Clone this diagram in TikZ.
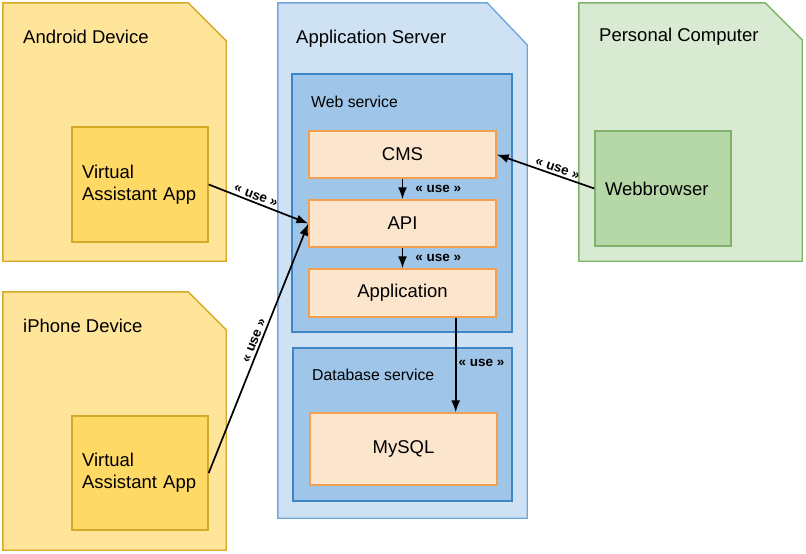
\documentclass[tikz,border=0pt]{standalone}
\usepackage{fontspec}
\setmainfont{Liberation Sans}
\usetikzlibrary{arrows.meta}

\definecolor{devfill}{HTML}{FFE599}
\definecolor{devdraw}{HTML}{D6A928}
\definecolor{appfill}{HTML}{FFD966}
\definecolor{srvfill}{HTML}{CFE2F3}
\definecolor{srvdraw}{HTML}{6FA8DC}
\definecolor{svcfill}{HTML}{9FC5E8}
\definecolor{svcdraw}{HTML}{3D85C6}
\definecolor{compfill}{HTML}{FCE5CD}
\definecolor{compdraw}{HTML}{F0A050}
\definecolor{pcfill}{HTML}{D9EAD3}
\definecolor{pcdraw}{HTML}{7FB36A}
\definecolor{webfill}{HTML}{B6D7A8}

\tikzset{
  every node/.style={font=\fontsize{18.5}{22}\selectfont},
  box/.style={draw,line width=1.4pt,inner sep=0pt},
  frame/.style={inner sep=0pt},
  cut/.style={line width=1.4pt,line join=miter},
  title/.style={anchor=west,inner sep=0pt},
  subtitle/.style={title,font=\fontsize{15.8}{19}\selectfont},
  usearrow/.style={line width=1.7pt,-{Latex[length=12pt,width=9pt]}},
  uselabel/.style={font=\fontsize{13.5}{16}\bfseries\selectfont,inner sep=2pt}
}

\begin{document}
\begin{tikzpicture}[x=1pt,y=-1pt]
\useasboundingbox (0,0) rectangle (806,554);

% devices
\node[frame,minimum width=223pt,minimum height=258pt] (android) at (114.5,132) {};
\draw[cut,fill=devfill,draw=devdraw] (android.south west) |- ([xshift=-38pt]android.north east)
  -- ([yshift=-38pt]android.north east) -- (android.south east) -- cycle;
\node[frame,minimum width=223pt,minimum height=258pt] (iphone) at (114.5,421) {};
\draw[cut,fill=devfill,draw=devdraw] (iphone.south west) |- ([xshift=-38pt]iphone.north east)
  -- ([yshift=-38pt]iphone.north east) -- (iphone.south east) -- cycle;
\node[frame,minimum width=249pt,minimum height=515pt] (server) at (402.5,260.5) {};
\draw[cut,fill=srvfill,draw=srvdraw] (server.south west) |- ([xshift=-40pt]server.north east)
  -- ([yshift=-42pt]server.north east) -- (server.south east) -- cycle;
\node[frame,minimum width=223pt,minimum height=258pt] (pc) at (690.5,132) {};
\draw[cut,fill=pcfill,draw=pcdraw] (pc.south west) |- ([xshift=-37pt]pc.north east)
  -- ([yshift=-37pt]pc.north east) -- (pc.south east) -- cycle;

\node[title] (androidtitle) at (23,37) {Android Device};
\node[title] (iphonetitle) at (23,326) {iPhone Device};
\node[title] (servertitle) at (296,39) {Application Server};
\node[title] (pctitle) at (599,37) {Personal Computer};

% services
\node[box,fill=svcfill,draw=svcdraw,minimum width=220pt,minimum height=258pt] (websvc) at (402,203) {};
\node[box,fill=svcfill,draw=svcdraw,minimum width=219pt,minimum height=153pt] (dbsvc) at (402.5,424.5) {};
\node[subtitle] (websvctitle) at (311,102) {Web service};
\node[subtitle] (dbsvctitle) at (312,375) {Database service};

% components
\node[box,fill=compfill,draw=compdraw,minimum width=187pt,minimum height=47pt] (cms) at (402.5,154.5) {CMS};
\node[box,fill=compfill,draw=compdraw,minimum width=187pt,minimum height=47pt] (api) at (402.5,223.5) {API};
\node[box,fill=compfill,draw=compdraw,minimum width=187pt,minimum height=48pt] (application) at (402.5,293) {Application};
\node[box,fill=compfill,draw=compdraw,minimum width=187pt,minimum height=72pt] (mysql) at (403.5,449) {MySQL};

\node[box,fill=appfill,draw=devdraw,text width=116pt,inner xsep=10pt,align=left,minimum height=115pt] (androidapp) at (140,184.5) {Virtual\\Assistant App};
\node[box,fill=appfill,draw=devdraw,text width=116pt,inner xsep=10pt,align=left,minimum height=114pt] (iphoneapp) at (140,473) {Virtual\\Assistant App};
\node[box,fill=webfill,draw=pcdraw,text width=116pt,inner xsep=10pt,align=left,minimum height=115pt] (browser) at (663,188.5) {Webbrowser};

% use relations
\draw[usearrow] (androidapp.east) -- node[uselabel,sloped,above,pos=0.45] {« use »} (api.west);
\draw[usearrow] (iphoneapp.east) -- node[uselabel,sloped,above,pos=0.52] {« use »} (api.west);
\draw[usearrow] (browser.west) -- node[uselabel,sloped,above,pos=0.4] {« use »} (cms.east);
\draw[usearrow] (cms.south) -- node[uselabel,right=10pt] {« use »} (api.north);
\draw[usearrow] (api.south) -- node[uselabel,right=10pt] {« use »} (application.north);
\draw[usearrow] ([xshift=-41pt]application.south east) -- node[uselabel,right,pos=0.48] {« use »} ([xshift=-41pt]application.south east |- mysql.north);
\end{tikzpicture}
\end{document}
